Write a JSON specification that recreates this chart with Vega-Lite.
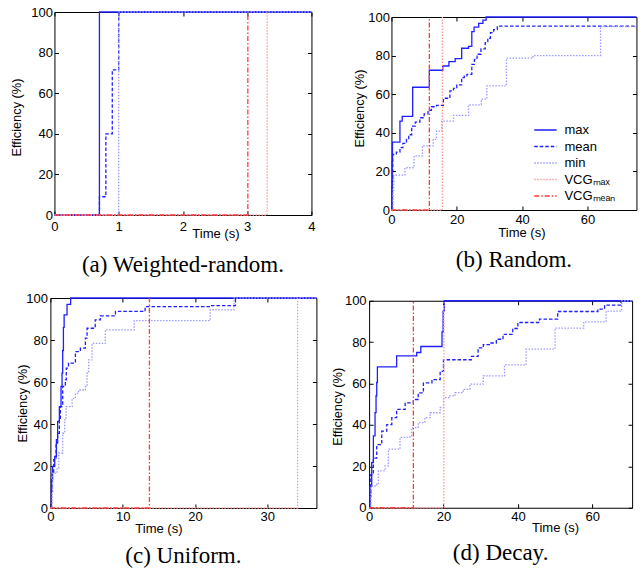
{
"$schema":"https://vega.github.io/schema/vega-lite/v6.json",
"padding":{"left":9,"top":5,"right":0,"bottom":0},
"background":"white",
"data":{"values":[
{"p":"a","s":"max","t":0,"v":0},{"p":"a","s":"max","t":0.7,"v":100},{"p":"a","s":"max","t":4,"v":100},
{"p":"a","s":"mean","t":0,"v":0},{"p":"a","s":"mean","t":0.7,"v":9},{"p":"a","s":"mean","t":0.8,"v":40},{"p":"a","s":"mean","t":0.9,"v":71.5},{"p":"a","s":"mean","t":1,"v":100},{"p":"a","s":"mean","t":4,"v":100},
{"p":"a","s":"min","t":0,"v":0},{"p":"a","s":"min","t":1,"v":100},{"p":"a","s":"min","t":4,"v":100},
{"p":"a","s":"VCGmax","t":0,"v":0},{"p":"a","s":"VCGmax","t":3.31,"v":100},
{"p":"a","s":"VCGmean","t":0,"v":0},{"p":"a","s":"VCGmean","t":3.01,"v":100},

{"p":"b","s":"max","t":0,"v":0},{"p":"b","s":"max","t":0.1,"v":12},{"p":"b","s":"max","t":0.2,"v":25},{"p":"b","s":"max","t":0.3,"v":35.2},{"p":"b","s":"max","t":2.6,"v":46},{"p":"b","s":"max","t":3.3,"v":48.5},{"p":"b","s":"max","t":6.5,"v":63.6},{"p":"b","s":"max","t":11.6,"v":72.4},{"p":"b","s":"max","t":15.7,"v":74.6},{"p":"b","s":"max","t":17.6,"v":76.9},{"p":"b","s":"max","t":19.5,"v":78.4},{"p":"b","s":"max","t":21.5,"v":83.8},{"p":"b","s":"max","t":23.6,"v":84.8},{"p":"b","s":"max","t":24.6,"v":92.4},{"p":"b","s":"max","t":25.3,"v":94.8},{"p":"b","s":"max","t":26.7,"v":96.7},{"p":"b","s":"max","t":28,"v":98.4},{"p":"b","s":"max","t":29,"v":100},{"p":"b","s":"max","t":75,"v":100},
{"p":"b","s":"mean","t":0,"v":0},{"p":"b","s":"mean","t":0.2,"v":15},{"p":"b","s":"mean","t":0.4,"v":28.8},{"p":"b","s":"mean","t":1.5,"v":30},{"p":"b","s":"mean","t":2.6,"v":32.3},{"p":"b","s":"mean","t":3.5,"v":34.5},{"p":"b","s":"mean","t":4.6,"v":36.6},{"p":"b","s":"mean","t":5.3,"v":39},{"p":"b","s":"mean","t":6.2,"v":43.5},{"p":"b","s":"mean","t":7.3,"v":45.5},{"p":"b","s":"mean","t":8.7,"v":47.8},{"p":"b","s":"mean","t":10,"v":49.8},{"p":"b","s":"mean","t":11.2,"v":51.6},{"p":"b","s":"mean","t":12.2,"v":53.5},{"p":"b","s":"mean","t":13.8,"v":54.2},{"p":"b","s":"mean","t":15.9,"v":57.9},{"p":"b","s":"mean","t":17.9,"v":61.7},{"p":"b","s":"mean","t":19,"v":63},{"p":"b","s":"mean","t":20,"v":64.8},{"p":"b","s":"mean","t":21.5,"v":68.6},{"p":"b","s":"mean","t":22.3,"v":69.5},{"p":"b","s":"mean","t":23.1,"v":70.3},{"p":"b","s":"mean","t":24.6,"v":75.5},{"p":"b","s":"mean","t":25.4,"v":78},{"p":"b","s":"mean","t":26.2,"v":80.7},{"p":"b","s":"mean","t":27.4,"v":83.5},{"p":"b","s":"mean","t":28.7,"v":86.7},{"p":"b","s":"mean","t":29.5,"v":89},{"p":"b","s":"mean","t":30.3,"v":91.9},{"p":"b","s":"mean","t":31.3,"v":93.5},{"p":"b","s":"mean","t":32.4,"v":95.3},{"p":"b","s":"mean","t":75,"v":95.3},
{"p":"b","s":"min","t":0,"v":0},{"p":"b","s":"min","t":0.5,"v":10},{"p":"b","s":"min","t":0.7,"v":18.1},{"p":"b","s":"min","t":4.1,"v":21.9},{"p":"b","s":"min","t":6.9,"v":28},{"p":"b","s":"min","t":9.5,"v":33.2},{"p":"b","s":"min","t":12.8,"v":36.6},{"p":"b","s":"min","t":13.8,"v":40.9},{"p":"b","s":"min","t":15.4,"v":46.1},{"p":"b","s":"min","t":19,"v":49},{"p":"b","s":"min","t":23.6,"v":54.5},{"p":"b","s":"min","t":27.5,"v":57.5},{"p":"b","s":"min","t":29.2,"v":64.3},{"p":"b","s":"min","t":35.2,"v":78.7},{"p":"b","s":"min","t":43.3,"v":80},{"p":"b","s":"min","t":64,"v":95},{"p":"b","s":"min","t":75,"v":95},
{"p":"b","s":"VCGmax","t":0,"v":0},{"p":"b","s":"VCGmax","t":15.6,"v":100},
{"p":"b","s":"VCGmean","t":0,"v":0},{"p":"b","s":"VCGmean","t":11.6,"v":100},

{"p":"c","s":"max","t":0,"v":0},{"p":"c","s":"max","t":0.14,"v":13.5},{"p":"c","s":"max","t":0.3,"v":19.8},{"p":"c","s":"max","t":0.6,"v":24.6},{"p":"c","s":"max","t":0.83,"v":32.5},{"p":"c","s":"max","t":1,"v":41.2},{"p":"c","s":"max","t":1.24,"v":48.3},{"p":"c","s":"max","t":1.47,"v":57.9},{"p":"c","s":"max","t":1.61,"v":64.2},{"p":"c","s":"max","t":1.7,"v":75},{"p":"c","s":"max","t":1.8,"v":86},{"p":"c","s":"max","t":1.9,"v":92},{"p":"c","s":"max","t":2.3,"v":97},{"p":"c","s":"max","t":2.8,"v":100},{"p":"c","s":"max","t":36.8,"v":100},
{"p":"c","s":"mean","t":0,"v":0},{"p":"c","s":"mean","t":0.14,"v":8},{"p":"c","s":"mean","t":0.23,"v":16.6},{"p":"c","s":"mean","t":0.46,"v":23},{"p":"c","s":"mean","t":0.78,"v":30.9},{"p":"c","s":"mean","t":1,"v":35.6},{"p":"c","s":"mean","t":1.24,"v":42},{"p":"c","s":"mean","t":1.38,"v":48.3},{"p":"c","s":"mean","t":1.7,"v":57.9},{"p":"c","s":"mean","t":2.07,"v":61},{"p":"c","s":"mean","t":2.2,"v":66.6},{"p":"c","s":"mean","t":2.5,"v":69},{"p":"c","s":"mean","t":3.46,"v":74.5},{"p":"c","s":"mean","t":4.15,"v":76.1},{"p":"c","s":"mean","t":4.84,"v":80.9},{"p":"c","s":"mean","t":5.07,"v":85.6},{"p":"c","s":"mean","t":6.2,"v":89.6},{"p":"c","s":"mean","t":6.9,"v":91.5},{"p":"c","s":"mean","t":9,"v":93.6},{"p":"c","s":"mean","t":13.1,"v":95.9},{"p":"c","s":"mean","t":22.1,"v":96.4},{"p":"c","s":"mean","t":25.6,"v":100},{"p":"c","s":"mean","t":36.8,"v":100},
{"p":"c","s":"min","t":0,"v":0},{"p":"c","s":"min","t":0.23,"v":7.1},{"p":"c","s":"min","t":0.32,"v":16.6},{"p":"c","s":"min","t":0.92,"v":19},{"p":"c","s":"min","t":1.15,"v":26.2},{"p":"c","s":"min","t":1.7,"v":35.6},{"p":"c","s":"min","t":1.98,"v":42},{"p":"c","s":"min","t":2.17,"v":48.3},{"p":"c","s":"min","t":3,"v":52.2},{"p":"c","s":"min","t":3.46,"v":54.6},{"p":"c","s":"min","t":3.9,"v":56.2},{"p":"c","s":"min","t":4.84,"v":57.8},{"p":"c","s":"min","t":5.07,"v":64.2},{"p":"c","s":"min","t":5.3,"v":70.5},{"p":"c","s":"min","t":5.76,"v":78.4},{"p":"c","s":"min","t":7.6,"v":84.8},{"p":"c","s":"min","t":11.6,"v":89.2},{"p":"c","s":"min","t":22.1,"v":94.3},{"p":"c","s":"min","t":25.4,"v":100},{"p":"c","s":"min","t":36.8,"v":100},
{"p":"c","s":"VCGmax","t":0,"v":0},{"p":"c","s":"VCGmax","t":34.2,"v":100},
{"p":"c","s":"VCGmean","t":0,"v":0},{"p":"c","s":"VCGmean","t":13.7,"v":100},

{"p":"d","s":"max","t":0,"v":0},{"p":"d","s":"max","t":0.26,"v":10.5},{"p":"d","s":"max","t":0.7,"v":21.8},{"p":"d","s":"max","t":1.15,"v":34.7},{"p":"d","s":"max","t":1.6,"v":46},{"p":"d","s":"max","t":1.87,"v":54.1},{"p":"d","s":"max","t":2.05,"v":60.5},{"p":"d","s":"max","t":2.23,"v":68.1},{"p":"d","s":"max","t":7.4,"v":73.4},{"p":"d","s":"max","t":12.8,"v":75},{"p":"d","s":"max","t":13.9,"v":77.9},{"p":"d","s":"max","t":19.6,"v":85},{"p":"d","s":"max","t":19.9,"v":95},{"p":"d","s":"max","t":20.2,"v":100},{"p":"d","s":"max","t":70.7,"v":100},
{"p":"d","s":"mean","t":0,"v":0},{"p":"d","s":"mean","t":0.26,"v":5.4},{"p":"d","s":"mean","t":0.45,"v":16},{"p":"d","s":"mean","t":1.15,"v":24},{"p":"d","s":"mean","t":2.05,"v":30.5},{"p":"d","s":"mean","t":3.4,"v":37},{"p":"d","s":"mean","t":4.75,"v":40.2},{"p":"d","s":"mean","t":6.1,"v":43.5},{"p":"d","s":"mean","t":7.4,"v":47.5},{"p":"d","s":"mean","t":9.7,"v":50.7},{"p":"d","s":"mean","t":11.9,"v":52.3},{"p":"d","s":"mean","t":13.2,"v":55.5},{"p":"d","s":"mean","t":14.6,"v":60.3},{"p":"d","s":"mean","t":16.9,"v":61.9},{"p":"d","s":"mean","t":19.1,"v":65.9},{"p":"d","s":"mean","t":20,"v":71.5},{"p":"d","s":"mean","t":27.5,"v":73.1},{"p":"d","s":"mean","t":29.3,"v":77.2},{"p":"d","s":"mean","t":30.7,"v":78.8},{"p":"d","s":"mean","t":32.5,"v":79.6},{"p":"d","s":"mean","t":34.2,"v":81.4},{"p":"d","s":"mean","t":36,"v":83.8},{"p":"d","s":"mean","t":38.6,"v":86.6},{"p":"d","s":"mean","t":40,"v":89.5},{"p":"d","s":"mean","t":45.8,"v":91.1},{"p":"d","s":"mean","t":50.7,"v":94.8},{"p":"d","s":"mean","t":61.5,"v":96},{"p":"d","s":"mean","t":63.3,"v":97.9},{"p":"d","s":"mean","t":67.7,"v":100},{"p":"d","s":"mean","t":70.7,"v":100},
{"p":"d","s":"min","t":0,"v":0},{"p":"d","s":"min","t":0.5,"v":10.5},{"p":"d","s":"min","t":2.05,"v":11.4},{"p":"d","s":"min","t":2.5,"v":17.8},{"p":"d","s":"min","t":4.3,"v":20.2},{"p":"d","s":"min","t":5.2,"v":28.3},{"p":"d","s":"min","t":8.3,"v":34},{"p":"d","s":"min","t":11,"v":34.7},{"p":"d","s":"min","t":11.4,"v":38.7},{"p":"d","s":"min","t":13.2,"v":41.1},{"p":"d","s":"min","t":15,"v":43.5},{"p":"d","s":"min","t":16.4,"v":45.9},{"p":"d","s":"min","t":19.1,"v":48.4},{"p":"d","s":"min","t":20,"v":53.2},{"p":"d","s":"min","t":21.7,"v":54},{"p":"d","s":"min","t":23.1,"v":55.6},{"p":"d","s":"min","t":25.3,"v":57.2},{"p":"d","s":"min","t":27.1,"v":59.7},{"p":"d","s":"min","t":30.7,"v":63.7},{"p":"d","s":"min","t":36.4,"v":69},{"p":"d","s":"min","t":42.2,"v":76.6},{"p":"d","s":"min","t":50,"v":86.8},{"p":"d","s":"min","t":57.7,"v":89.8},{"p":"d","s":"min","t":63.7,"v":95},{"p":"d","s":"min","t":67.9,"v":100},{"p":"d","s":"min","t":70.7,"v":100},
{"p":"d","s":"VCGmax","t":0,"v":0},{"p":"d","s":"VCGmax","t":20.1,"v":100},
{"p":"d","s":"VCGmean","t":0,"v":0},{"p":"d","s":"VCGmean","t":11.9,"v":100}
]},
"spacing":14,
"center":true,
"resolve":{"scale":{"color":"independent","strokeDash":"independent"},"legend":{"color":"independent","strokeDash":"independent"}},
"vconcat":[
{"hconcat":[
 {"width":257,"height":203,
  "title":{"text":"(a) Weighted-random.","offset":13},
  "transform":[{"filter":"datum.p === 'a'"}],
  "layer":[
   {"mark":{"type":"line","interpolate":"step-after","strokeWidth":1.3},
    "encoding":{
     "x":{"field":"t","type":"quantitative","scale":{"domain":[0,4],"nice":false,"zero":false},"axis":{"values":[0,1,2,3,4],"title":"Time (s)","titleX":161,"titleY":12.5,"labelPadding":9.7}},
     "y":{"field":"v","type":"quantitative","scale":{"domain":[0,100],"nice":false},"axis":{"values":[0,20,40,60,80,100],"title":"Efficiency (%)","titleX":-31,"titleY":105,"labelPadding":6}},
     "color":{"field":"s","type":"nominal","scale":{"domain":["max","mean","min","VCGmax","VCGmean"],"range":["#1f1fff","#1f1fff","#9a9aff","#ff9a9a","#ff3c3c"]},"legend":null},
     "strokeDash":{"field":"s","type":"nominal","scale":{"domain":["max","mean","min","VCGmax","VCGmean"],"range":[[1,0],[3.5,2],[1.5,1.5],[1.5,1.5],[5,2,1.5,2]]},"legend":null}
    }},
   {"mark":{"type":"line","strokeOpacity":0},
    "encoding":{
     "x":{"field":"t","type":"quantitative","axis":{"orient":"top","values":[0,1,2,3,4],"labels":false,"title":null}},
     "y":{"field":"v","type":"quantitative","axis":{"orient":"right","values":[0,20,40,60,80,100],"labels":false,"title":null}}
    }}
  ],
  "resolve":{"axis":{"x":"independent","y":"independent"}}
 },
 {"width":245,"height":193,
  "title":{"text":"(b) Random.","offset":9},
  "transform":[{"filter":"datum.p === 'b'"}],
  "layer":[
   {"mark":{"type":"line","interpolate":"step-after","strokeWidth":1.3},
    "encoding":{
     "x":{"field":"t","type":"quantitative","scale":{"domain":[0,75],"nice":false,"zero":false},"axis":{"values":[0,20,40,60],"title":"Time (s)","titleX":130,"titleY":16.5,"labelPadding":7}},
     "y":{"field":"v","type":"quantitative","scale":{"domain":[0,100],"nice":false},"axis":{"values":[0,20,40,60,80,100],"title":"Efficiency (%)","titleX":-25,"titleY":91,"labelPadding":6}},
     "color":{"field":"s","type":"nominal","scale":{"domain":["max","mean","min","VCGmax","VCGmean"],"range":["#1f1fff","#1f1fff","#9a9aff","#ff9a9a","#ff3c3c"]},
       "legend":{"orient":"none","legendX":145,"legendY":104,"title":null,"symbolType":"M-1.4,0H1.4","symbolSize":256,"symbolStrokeWidth":1.5,"labelFont":"Liberation Sans","labelFontSize":13,"labelColor":"#000","labelOffset":10,"rowPadding":0.5,"padding":0,"labelExpr":"datum.label === 'VCGmax' ? 'VCGₘₐₓ' : datum.label === 'VCGmean' ? 'VCGₘₑₐₙ' : datum.label"}},
     "strokeDash":{"field":"s","type":"nominal","scale":{"domain":["max","mean","min","VCGmax","VCGmean"],"range":[[1,0],[3.5,2],[1.5,1.5],[1.5,1.5],[5,2,1.5,2]]},
       "legend":{"orient":"none","legendX":145,"legendY":104,"title":null,"symbolType":"M-1.4,0H1.4","symbolSize":256,"symbolStrokeWidth":1.5,"labelFont":"Liberation Sans","labelFontSize":13,"labelColor":"#000","labelOffset":10,"rowPadding":0.5,"padding":0,"labelExpr":"datum.label === 'VCGmax' ? 'VCGₘₐₓ' : datum.label === 'VCGmean' ? 'VCGₘₑₐₙ' : datum.label"}}
    }},
   {"mark":{"type":"line","strokeOpacity":0},
    "encoding":{
     "x":{"field":"t","type":"quantitative","axis":{"orient":"top","values":[0,20,40,60],"labels":false,"title":null}},
     "y":{"field":"v","type":"quantitative","axis":{"orient":"right","values":[0,20,40,60,80,100],"labels":false,"title":null}}
    }}
  ],
  "resolve":{"axis":{"x":"independent","y":"independent"}}
 }
],"spacing":36,"center":true,
"resolve":{"scale":{"color":"independent","strokeDash":"independent"},"legend":{"color":"independent","strokeDash":"independent"}}},
{"hconcat":[
 {"width":266,"height":210,
  "title":{"text":"(c) Uniform.","offset":9},
  "transform":[{"filter":"datum.p === 'c'"}],
  "layer":[
   {"mark":{"type":"line","interpolate":"step-after","strokeWidth":1.3},
    "encoding":{
     "x":{"field":"t","type":"quantitative","scale":{"domain":[0,36.8],"nice":false,"zero":false},"axis":{"values":[0,10,20,30],"title":"Time (s)","titleX":108,"titleY":14.5,"labelPadding":6.3}},
     "y":{"field":"v","type":"quantitative","scale":{"domain":[0,100],"nice":false},"axis":{"values":[0,20,40,60,80,100],"title":"Efficiency (%)","titleX":-20.7,"titleY":105,"labelPadding":7}},
     "color":{"field":"s","type":"nominal","scale":{"domain":["max","mean","min","VCGmax","VCGmean"],"range":["#1f1fff","#1f1fff","#9a9aff","#ff9a9a","#ff3c3c"]},"legend":null},
     "strokeDash":{"field":"s","type":"nominal","scale":{"domain":["max","mean","min","VCGmax","VCGmean"],"range":[[1,0],[3.5,2],[1.5,1.5],[1.5,1.5],[5,2,1.5,2]]},"legend":null}
    }},
   {"mark":{"type":"line","strokeOpacity":0},
    "encoding":{
     "x":{"field":"t","type":"quantitative","axis":{"orient":"top","values":[0,10,20,30],"labels":false,"title":null}},
     "y":{"field":"v","type":"quantitative","axis":{"orient":"right","values":[0,20,40,60,80,100],"labels":false,"title":null}}
    }}
  ],
  "resolve":{"axis":{"x":"independent","y":"independent"}}
 },
 {"width":263,"height":207,
  "title":{"text":"(d) Decay.","offset":7},
  "transform":[{"filter":"datum.p === 'd'"}],
  "layer":[
   {"mark":{"type":"line","interpolate":"step-after","strokeWidth":1.3},
    "encoding":{
     "x":{"field":"t","type":"quantitative","scale":{"domain":[0,70.7],"nice":false,"zero":false},"axis":{"values":[0,20,40,60],"title":"Time (s)","titleX":186,"titleY":14,"labelPadding":6.3}},
     "y":{"field":"v","type":"quantitative","scale":{"domain":[0,100],"nice":false},"axis":{"values":[0,20,40,60,80,100],"title":"Efficiency (%)","titleX":-25,"titleY":105.5,"labelPadding":7}},
     "color":{"field":"s","type":"nominal","scale":{"domain":["max","mean","min","VCGmax","VCGmean"],"range":["#1f1fff","#1f1fff","#9a9aff","#ff9a9a","#ff3c3c"]},"legend":null},
     "strokeDash":{"field":"s","type":"nominal","scale":{"domain":["max","mean","min","VCGmax","VCGmean"],"range":[[1,0],[3.5,2],[1.5,1.5],[1.5,1.5],[5,2,1.5,2]]},"legend":null}
    }},
   {"mark":{"type":"point","shape":"M0,0H2","size":121,"opacity":0,"strokeWidth":0},
    "encoding":{
     "x":{"field":"t","type":"quantitative","axis":{"orient":"top","values":[0,20,40,60],"labels":false,"title":null}},
     "y":{"field":"v","type":"quantitative","axis":{"orient":"right","values":[0,20,40,60,80,100],"labels":false,"title":null}}
    }}
  ],
  "resolve":{"axis":{"x":"independent","y":"independent"}}
 }
],"spacing":9.7,"center":true,
"resolve":{"scale":{"color":"independent","strokeDash":"independent"},"legend":{"color":"independent","strokeDash":"independent"}}}
],
"config":{
 "view":{"stroke":"#000","strokeWidth":1},
 "axis":{"domain":false,"grid":false,"tickSize":-4,"tickColor":"#000","tickWidth":1,"labelFont":"Liberation Sans","labelFontSize":13,"labelColor":"#000","labelFlush":false,"labelOverlap":false,"titleFont":"Liberation Sans","titleFontSize":12.8,"titleFontWeight":"normal","titleColor":"#000"},
 "axisX":{"titleBaseline":"top","titleAlign":"center","titleFontSize":13},
 "axisY":{"titleBaseline":"bottom","titleAlign":"center","titleAngle":-90},
 "title":{"orient":"bottom","anchor":"middle","font":"Liberation Serif","fontSize":23,"fontWeight":"normal","color":"#000"}
}
}
